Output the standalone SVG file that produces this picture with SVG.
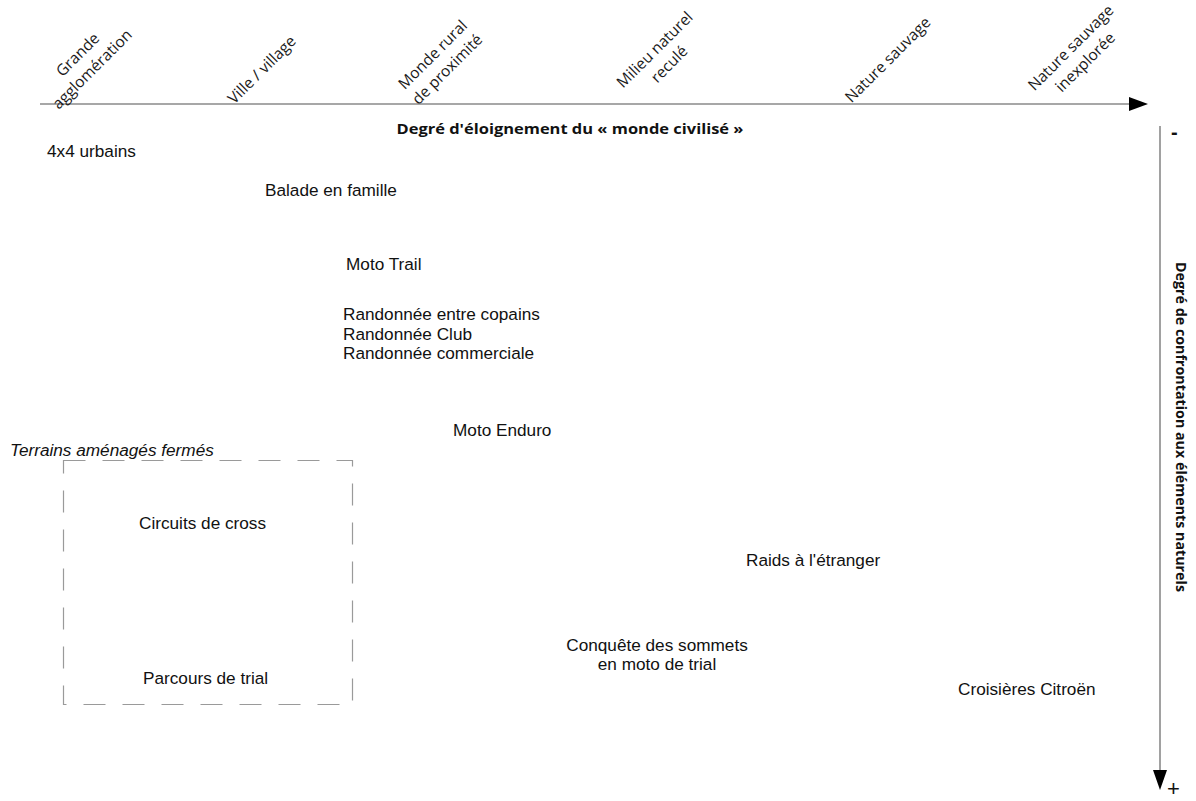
<svg xmlns="http://www.w3.org/2000/svg" width="1196" height="801" viewBox="0 0 1196 801">
<style>
.axis{stroke:#8a8a8a;stroke-width:1.6;fill:none}
.cal{font-family:"Open Sans","Liberation Sans",sans-serif;font-size:15.5px;fill:#1a1a1a}
.calb{font-family:"Open Sans","Liberation Sans",sans-serif;font-size:14px;font-weight:bold;fill:#111}
.lbl{font-family:"Liberation Sans",Arial,sans-serif;font-size:17.2px;fill:#111}
.it{font-style:italic}
.minus{font-family:"Liberation Sans",Arial,sans-serif;font-size:20px;font-weight:bold;fill:#111}
.plus{font-family:"Liberation Sans",Arial,sans-serif;font-size:22px;fill:#111}
.box{fill:none;stroke:#9a9a9a;stroke-width:1.2;stroke-dasharray:22 17}
</style>
<rect width="1196" height="801" fill="#fff"/>
<g id="connectors">
<line class="axis" x1="40" y1="104" x2="1130" y2="104"/>
<path d="M1129,97 L1148,104 L1129,111 Z" fill="#000"/>
<line class="axis" x1="1160" y1="126" x2="1160" y2="772"/>
<path d="M1153,770 L1160,790 L1167,770 Z" fill="#000"/>
</g>
<g id="axis-x-labels">
<g id="x-grande" transform="translate(85,62) rotate(-45)"><text class="cal" text-anchor="middle"><tspan x="0" y="-5">Grande</tspan><tspan x="0" y="15.5">agglomération</tspan></text></g>
<g id="x-ville" transform="translate(262,70) rotate(-45)"><text class="cal" text-anchor="middle" x="0" y="5">Ville / village</text></g>
<g id="x-monde" transform="translate(440,62) rotate(-45)"><text class="cal" text-anchor="middle"><tspan x="0" y="-5">Monde rural</tspan><tspan x="0" y="15.5">de proximité</tspan></text></g>
<g id="x-milieu" transform="translate(662,57) rotate(-45)"><text class="cal" text-anchor="middle"><tspan x="0" y="-5">Milieu naturel</tspan><tspan x="0" y="15.5">reculé</tspan></text></g>
<g id="x-nature" transform="translate(888,60) rotate(-45)"><text class="cal" text-anchor="middle" x="0" y="5">Nature sauvage</text></g>
<g id="x-inexploree" transform="translate(1078,55) rotate(-45)"><text class="cal" text-anchor="middle"><tspan x="0" y="-5">Nature sauvage</tspan><tspan x="0" y="15.5">inexplorée</tspan></text></g>
</g>
<g id="axis-titles">
<text class="calb" x="570" y="134" text-anchor="middle" textLength="347" lengthAdjust="spacingAndGlyphs">Degré d'éloignement du « monde civilisé »</text>
<g transform="translate(1176,427) rotate(90)"><text class="calb" x="0" y="0" text-anchor="middle" textLength="330" lengthAdjust="spacingAndGlyphs">Degré de confrontation aux éléments naturels</text></g>
<text class="minus" x="1171" y="139">-</text>
<text class="plus" x="1167" y="796">+</text>
</g>
<g id="n-4x4"><text class="lbl" x="47" y="157">4x4 urbains</text></g>
<g id="n-balade"><text class="lbl" x="265" y="196">Balade en famille</text></g>
<g id="n-trail"><text class="lbl" x="346" y="270">Moto Trail</text></g>
<g id="n-rando"><text class="lbl"><tspan x="343" y="320">Randonnée entre copains</tspan><tspan x="343" y="339.5">Randonnée Club</tspan><tspan x="343" y="359">Randonnée commerciale</tspan></text></g>
<g id="n-enduro"><text class="lbl" x="453" y="436">Moto Enduro</text></g>
<g id="n-terrains">
<rect class="box" x="63.5" y="460.5" width="289" height="244"/>
<text class="lbl it" x="10" y="456">Terrains aménagés fermés</text>
</g>
<g id="n-cross"><text class="lbl" x="139" y="529">Circuits de cross</text></g>
<g id="n-trial"><text class="lbl" x="143" y="684">Parcours de trial</text></g>
<g id="n-raids"><text class="lbl" x="746" y="566">Raids à l'étranger</text></g>
<g id="n-conquete"><text class="lbl" text-anchor="middle"><tspan x="657" y="651">Conquête des sommets</tspan><tspan x="657" y="670">en moto de trial</tspan></text></g>
<g id="n-croisieres"><text class="lbl" x="958" y="695">Croisières Citroën</text></g>
</svg>
